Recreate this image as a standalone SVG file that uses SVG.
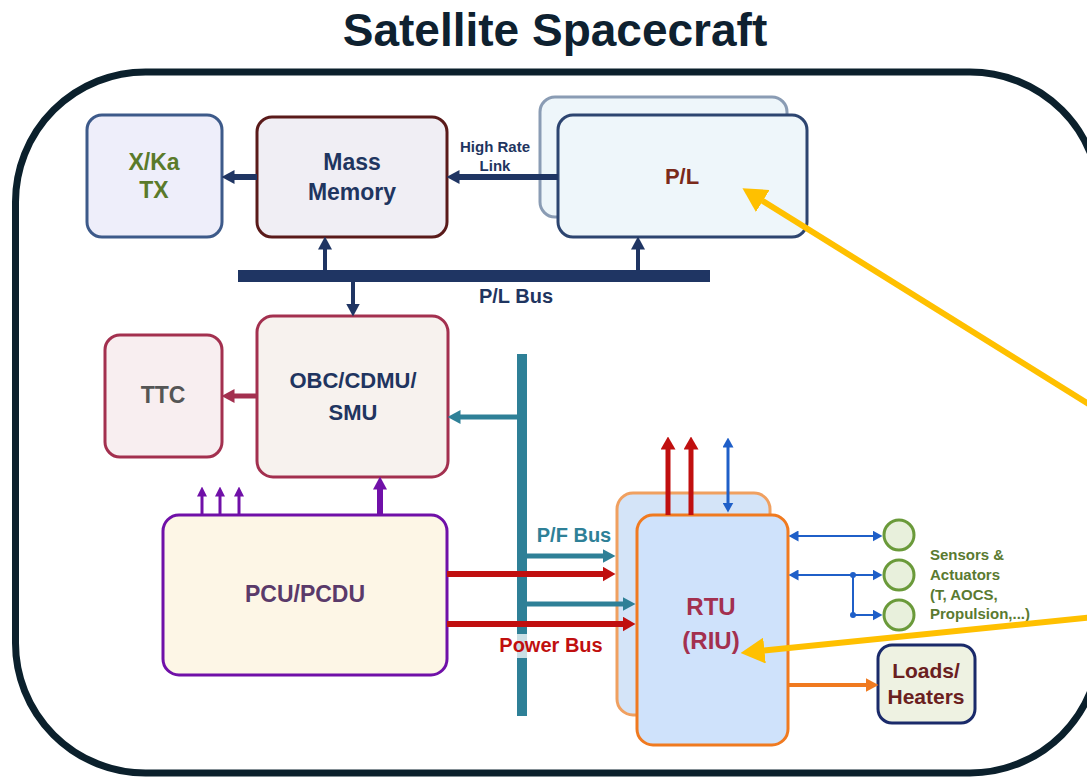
<svg xmlns="http://www.w3.org/2000/svg" width="1087" height="777" viewBox="0 0 1087 777">
<style>
text{font-family:"Liberation Sans",Arial,sans-serif;font-weight:bold;text-anchor:middle}
.box{stroke-width:3}
.ln{fill:none}
</style>
<defs>
<marker id="aNavy" markerUnits="userSpaceOnUse" markerWidth="13" markerHeight="14" viewBox="0 0 13 14" refX="0.5" refY="7" orient="auto"><path d="M0,0 L13,7 L0,14 z" fill="#1f3563"/></marker>
<marker id="aCrim" markerUnits="userSpaceOnUse" markerWidth="13" markerHeight="14" viewBox="0 0 13 14" refX="0.5" refY="7" orient="auto"><path d="M0,0 L13,7 L0,14 z" fill="#a3304f"/></marker>
<marker id="aTeal" markerUnits="userSpaceOnUse" markerWidth="13" markerHeight="14" viewBox="0 0 13 14" refX="0.5" refY="7" orient="auto"><path d="M0,0 L13,7 L0,14 z" fill="#2e8097"/></marker>
<marker id="aRed" markerUnits="userSpaceOnUse" markerWidth="13" markerHeight="15" viewBox="0 0 13 15" refX="0.5" refY="7.5" orient="auto"><path d="M0,0 L13,7.5 L0,15 z" fill="#c00f0f"/></marker>
<marker id="aPurS" markerUnits="userSpaceOnUse" markerWidth="10" markerHeight="10" viewBox="0 0 10 10" refX="0.5" refY="5" orient="auto"><path d="M0,0 L10,5 L0,10 z" fill="#7010a8"/></marker>
<marker id="aPur" markerUnits="userSpaceOnUse" markerWidth="13" markerHeight="14" viewBox="0 0 13 14" refX="0.5" refY="7" orient="auto"><path d="M0,0 L13,7 L0,14 z" fill="#7010a8"/></marker>
<marker id="aBlue" markerUnits="userSpaceOnUse" markerWidth="10" markerHeight="11" viewBox="0 0 10 11" refX="0.5" refY="5.5" orient="auto-start-reverse"><path d="M0,0 L10,5.5 L0,11 z" fill="#1f5fc8"/></marker>
<marker id="aOrg" markerUnits="userSpaceOnUse" markerWidth="13" markerHeight="14" viewBox="0 0 13 14" refX="0.5" refY="7" orient="auto"><path d="M0,0 L13,7 L0,14 z" fill="#f07a20"/></marker>
<marker id="aYel" markerUnits="userSpaceOnUse" markerWidth="24" markerHeight="26" viewBox="0 0 24 26" refX="0.5" refY="13" orient="auto"><path d="M0,0 L24,13 L0,26 z" fill="#ffc000"/></marker>
</defs>

<text x="555" y="46" font-size="46" fill="#0e2130">Satellite Spacecraft</text>
<rect id="frame" x="15.5" y="72" width="1084.5" height="701" rx="130" ry="130" fill="none" stroke="#0b202c" stroke-width="7"/>

<g id="xka"><rect class="box" x="87" y="115" width="135" height="122" rx="15" fill="#eeeefa" stroke="#3d5a8a"/>
<text x="154" y="170" font-size="23" fill="#5a7a2a">X/Ka</text><text x="154" y="198" font-size="23" fill="#5a7a2a">TX</text></g>

<g id="mm"><rect class="box" x="257" y="117" width="190" height="120" rx="15" fill="#f0eef4" stroke="#5a1a1a"/>
<text x="352" y="170" font-size="23" fill="#1f3560">Mass</text><text x="352" y="200" font-size="23" fill="#1f3560">Memory</text></g>

<g id="pl"><rect class="box" x="540" y="97" width="247" height="120" rx="15" fill="#eef6fa" stroke="#8a9cb4"/>
<rect class="box" x="558" y="115" width="249" height="122" rx="15" fill="#eef6fa" stroke="#2d4570"/>
<text x="682" y="184" font-size="22" fill="#7a2a1a">P/L</text></g>

<g id="obc"><rect class="box" x="257" y="316" width="191" height="161" rx="16" fill="#f7f2ee" stroke="#a3304f"/>
<text x="353" y="388" font-size="22" fill="#1f3560">OBC/CDMU/</text><text x="353" y="420" font-size="22" fill="#1f3560">SMU</text></g>

<g id="ttc"><rect class="box" x="105" y="335" width="117" height="122" rx="15" fill="#f8eef0" stroke="#a3304f"/>
<text x="163" y="403" font-size="23" fill="#555555">TTC</text></g>

<g id="pcu"><rect class="box" x="163" y="515" width="284" height="160" rx="16" fill="#fdf6e6" stroke="#7010a8"/>
<text x="305" y="602" font-size="23" fill="#5a3a6a">PCU/PCDU</text></g>

<g id="rtu"><rect class="box" x="617" y="493" width="153" height="222" rx="16" fill="#d4e4f8" stroke="#f0a060"/>
<rect class="box" x="637" y="515" width="151" height="230" rx="16" fill="#cfe2fb" stroke="#f07a20"/>
<text x="711" y="615" font-size="24" fill="#a3304f">RTU</text><text x="711" y="649" font-size="24" fill="#a3304f">(RIU)</text></g>

<g id="sensors"><circle cx="899" cy="535" r="15" fill="#e8f0dc" stroke="#6a9a3a" stroke-width="3"/>
<circle cx="899" cy="575" r="15" fill="#e8f0dc" stroke="#6a9a3a" stroke-width="3"/>
<circle cx="899" cy="615" r="15" fill="#e8f0dc" stroke="#6a9a3a" stroke-width="3"/>
<g font-size="15" fill="#5a7a30" style="text-anchor:start"><text x="930" y="560" style="text-anchor:start">Sensors &amp;</text><text x="930" y="580" style="text-anchor:start">Actuators</text><text x="930" y="600" style="text-anchor:start">(T, AOCS,</text><text x="930" y="619" style="text-anchor:start">Propulsion,...)</text></g></g>

<g id="loads"><rect class="box" x="878" y="645" width="97" height="78" rx="14" fill="#eef2e2" stroke="#1a2a6a"/>
<text x="926" y="678" font-size="21" fill="#6a2020">Loads/</text><text x="926" y="704" font-size="21" fill="#6a2020">Heaters</text></g>

<g id="connectors">
<rect x="238" y="270" width="472" height="12" fill="#1f3563"/>
<text x="516" y="303" font-size="20" fill="#1f3560">P/L Bus</text>
<line class="ln" x1="257" y1="177" x2="234" y2="177" stroke="#1f3563" stroke-width="6" marker-end="url(#aNavy)"/>
<line class="ln" x1="558" y1="177" x2="459" y2="177" stroke="#1f3563" stroke-width="6" marker-end="url(#aNavy)"/>
<text x="495" y="152" font-size="15" fill="#1f3560">High Rate</text><text x="495" y="171" font-size="15" fill="#1f3560">Link</text>
<line class="ln" x1="325" y1="272" x2="325" y2="249" stroke="#1f3563" stroke-width="4" marker-end="url(#aNavy)"/>
<line class="ln" x1="638" y1="272" x2="638" y2="249" stroke="#1f3563" stroke-width="4" marker-end="url(#aNavy)"/>
<line class="ln" x1="353" y1="280" x2="353" y2="304" stroke="#1f3563" stroke-width="4" marker-end="url(#aNavy)"/>
<line class="ln" x1="257" y1="396" x2="234" y2="396" stroke="#a3304f" stroke-width="5" marker-end="url(#aCrim)"/>
<rect x="517" y="354" width="10" height="362" fill="#2e8097"/>
<line class="ln" x1="517" y1="417" x2="460" y2="417" stroke="#2e8097" stroke-width="5" marker-end="url(#aTeal)"/>
<line class="ln" x1="527" y1="556" x2="603" y2="556" stroke="#2e8097" stroke-width="5" marker-end="url(#aTeal)"/>
<line class="ln" x1="527" y1="604" x2="623" y2="604" stroke="#2e8097" stroke-width="5" marker-end="url(#aTeal)"/>
<text x="574" y="542" font-size="20" fill="#2e8097">P/F Bus</text>
<line class="ln" x1="447" y1="574" x2="603" y2="574" stroke="#c00f0f" stroke-width="6" marker-end="url(#aRed)"/>
<line class="ln" x1="447" y1="624" x2="623" y2="624" stroke="#c00f0f" stroke-width="6" marker-end="url(#aRed)"/>
<rect x="495" y="634" width="112" height="24" fill="#ffffff" opacity="0.75"/>
<text x="551" y="652" font-size="20" fill="#c00f0f">Power Bus</text>
<line class="ln" x1="668" y1="515" x2="668" y2="449" stroke="#c00f0f" stroke-width="5" marker-end="url(#aRed)"/>
<line class="ln" x1="691" y1="515" x2="691" y2="449" stroke="#c00f0f" stroke-width="5" marker-end="url(#aRed)"/>
<line class="ln" x1="728" y1="447" x2="728" y2="503" stroke="#1f5fc8" stroke-width="3" marker-start="url(#aBlue)" marker-end="url(#aBlue)"/>
<line class="ln" x1="202" y1="515" x2="202" y2="496" stroke="#7010a8" stroke-width="3" marker-end="url(#aPurS)"/>
<line class="ln" x1="220" y1="515" x2="220" y2="496" stroke="#7010a8" stroke-width="3" marker-end="url(#aPurS)"/>
<line class="ln" x1="239" y1="515" x2="239" y2="496" stroke="#7010a8" stroke-width="3" marker-end="url(#aPurS)"/>
<line class="ln" x1="380" y1="515" x2="380" y2="489" stroke="#7010a8" stroke-width="6" marker-end="url(#aPur)"/>
<line class="ln" x1="798" y1="536" x2="873" y2="536" stroke="#1f5fc8" stroke-width="2" marker-start="url(#aBlue)" marker-end="url(#aBlue)"/>
<line class="ln" x1="798" y1="575" x2="873" y2="575" stroke="#1f5fc8" stroke-width="2" marker-start="url(#aBlue)" marker-end="url(#aBlue)"/>
<path class="ln" d="M853,575 V615 H873" stroke="#1f5fc8" stroke-width="2" marker-end="url(#aBlue)"/>
<circle cx="853" cy="575" r="3" fill="#1f5fc8"/><circle cx="853" cy="615" r="3" fill="#1f5fc8"/>
<line class="ln" x1="788" y1="685" x2="866" y2="685" stroke="#f07a20" stroke-width="4" marker-end="url(#aOrg)"/>
<line class="ln" x1="1095" y1="408" x2="762.4" y2="200.7" stroke="#ffc000" stroke-width="6" marker-end="url(#aYel)"/>
<line class="ln" x1="1095" y1="617" x2="764" y2="650.6" stroke="#ffc000" stroke-width="6" marker-end="url(#aYel)"/>
</g>
</svg>
